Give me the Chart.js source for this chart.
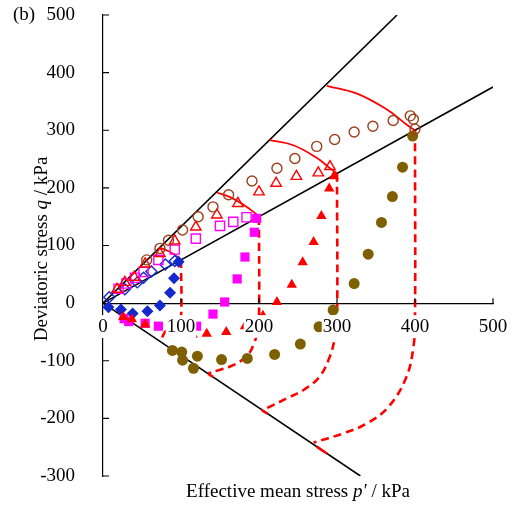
<!DOCTYPE html>
<html><head><meta charset="utf-8">
<style>html,body{margin:0;padding:0;background:#fff;}#wrap{width:514px;height:511px;}</style>
<script src="https://cdn.jsdelivr.net/npm/chart.js@4"></script>
</head><body><div id="wrap"><canvas id="c" width="514" height="511"></canvas></div>
<script>
const xTicks = [0, 100, 200, 300, 400, 500];
const yTicks = [-300, -200, -100, 0, 100, 200, 300, 400, 500];

// measured points [p', q]
const blueFilled = [[7,-7],[23,-11],[38,-18],[57,-14],[73,-4],[86,18],[91,43],[97,72]];
const blueOpen = [[8,10],[28,24],[44,36],[52,44],[62,55],[80,67],[92,73]];
const magentaOpen = [[20,25],[30,34],[41,44],[52,54],[71,75],[92,93],[119,112],[150,134],[167,141],[184,149]];
const magentaFilled = [[27,-27],[33,-32],[54,-35],[71,-40],[120,-40],[141,-19],[156,2],[172,42],[182,80],[194,123],[197,147]];
const redOpen = [[18,24],[28,36],[40,45],[54,68],[73,86],[92,108],[119,132],[146,153],[173,173],[200,193],[222,208],[248,220],[276,226],[291,237]];
const redFilled = [[26,-24],[37,-28],[54,-37],[115,-55],[133,-53],[158,-50],[182,-40],[205,-22],[223,2],[242,32],[256,71],[270,106],[280,151],[290,199],[296,220]];
const brownOpen = [[56,75],[73,95],[84,109],[102,127],[122,150],[141,167],[161,188],[191,212],[223,234],[246,251],[274,272],[297,284],[322,297],[346,307],[372,317],[394,325],[398,319],[400,302]];
const oliveFilled = [[89,-82],[101,-85],[102,-99],[116,-113],[121,-92],[152,-98],[185,-96],[220,-89],[253,-71],[277,-41],[295,-12],[322,34],[340,85],[357,140],[371,185],[384,236],[397,290]];

// straight lines
const lineUpper = [[0,0],[377,500]];
const lineLower = [[0,0],[500,375]];
const lineNeg = [[0,0],[330,-300]];

// solid red arcs
const arc100 = [[73,96],[81,92],[91,85],[97,78],[100,75]];
const arc200 = [[146,192],[163,184],[182,169],[195,156],[200,150]];
const arc300 = [[214,283],[244,274],[273,253],[292,233],[300,225]];
const arc400 = [[287,377],[325,364],[364,336],[389,310],[400,300]];

// dashed red paths
const dash100 = [[100,75],[100,-25],[96,-34],[88,-40],[82,-46],[77,-56],[75,-66]];
const dash200 = [[200,150],[200,-25],[198,-50],[193,-72],[186,-90],[176,-101],[163,-110],[149,-116],[135,-122]];
const dash300 = [[300,225],[300,-35],[297,-62],[291,-92],[278,-127],[259,-149],[236,-165],[212,-181],[203,-186]];
const dash400 = [[400,300],[400,-30],[398,-76],[389,-128],[366,-180],[338,-209],[308,-226],[270,-242]];
const tail200 = [[135,-123],[141,-128]];
const tail300 = [[204,-186],[211,-192]];
const tail400 = [[274,-249],[287,-261]];

const pts = a => a.map(([x, y]) => ({x, y}));
const SERIF = '"Liberation Serif", "Times New Roman", serif';

function markers(data, style, color, filled, r, order) {
  return {data: pts(data), showLine: false, pointStyle: style, pointRadius: r,
    pointBackgroundColor: filled ? color : 'rgba(0,0,0,0)', pointBorderColor: color,
    pointBorderWidth: filled ? 0 : 1.4, order};
}
function path(data, color, width, dash, tension, order) {
  return {data: pts(data), showLine: true, pointRadius: 0, borderColor: color, borderWidth: width,
    borderDash: dash, tension, fill: false, order, borderCapStyle: 'butt'};
}

const datasets = [
  path(lineUpper, '#000', 1.6, [], 0, 20),
  path(lineLower, '#000', 1.6, [], 0, 20),
  path(lineNeg, '#000', 1.6, [], 0, 20),
  path(arc100, '#ff0000', 1.8, [], 0.4, 15),
  path(arc200, '#ff0000', 1.8, [], 0.4, 15),
  path(arc300, '#ff0000', 1.8, [], 0.4, 15),
  path(arc400, '#ff0000', 1.8, [], 0.4, 15),
  path(dash100, '#ff0000', 2.6, [8, 5], 0.4, 15),
  path(dash200, '#ff0000', 2.6, [8, 5], 0.4, 15),
  path(dash300, '#ff0000', 2.6, [8, 5], 0.4, 15),
  path(dash400, '#ff0000', 2.6, [8, 5], 0.4, 15),
  path(tail200, '#ff0000', 2.6, [], 0, 15),
  path(tail300, '#ff0000', 2.6, [], 0, 15),
  path(tail400, '#ff0000', 2.6, [], 0, 15),
  markers(oliveFilled, 'circle', '#7f6000', true, 5.5, 8),
  markers(blueFilled, 'rectRot', '#1428d0', true, 6, 7),
  markers(magentaFilled, 'rect', '#ff00ff', true, 6.5, 6),
  markers(redFilled, 'triangle', '#ff0000', true, 6, 5),
  markers(blueOpen, 'rectRot', '#1428d0', false, 5.5, 4),
  markers(magentaOpen, 'rect', '#ff00ff', false, 6.5, 3),
  markers(redOpen, 'triangle', '#ff0000', false, 6, 2),
  markers(brownOpen, 'circle', '#9c3f1a', false, 5, 1),
];

const decor = {
  id: 'decor',
  afterDraw(chart) {
    const ctx = chart.ctx, xs = chart.scales.x, ys = chart.scales.y;
    const x0 = xs.getPixelForValue(0), y0 = ys.getPixelForValue(0);
    ctx.save();
    ctx.strokeStyle = '#000'; ctx.lineWidth = 1.2;
    ctx.beginPath();
    xTicks.forEach(v => { if (v === 0) return; const px = xs.getPixelForValue(v); ctx.moveTo(px, y0); ctx.lineTo(px, y0 - 5); });
    yTicks.forEach(v => { if (v === 0) return; const py = ys.getPixelForValue(v); ctx.moveTo(x0, py); ctx.lineTo(x0 + 6, py); });
    ctx.stroke();
    ctx.fillStyle = '#000';
    const mixed = (parts, cx, cy, rot, size) => {
      ctx.save(); ctx.translate(cx, cy); if (rot) ctx.rotate(-Math.PI / 2);
      ctx.textBaseline = 'middle'; ctx.textAlign = 'left';
      let total = 0;
      const ws = parts.map(p => { ctx.font = (p[1] ? 'italic ' : '') + size + 'px ' + SERIF; const w = ctx.measureText(p[0]).width; total += w; return w; });
      let x = -total / 2;
      parts.forEach((p, i) => { ctx.font = (p[1] ? 'italic ' : '') + size + 'px ' + SERIF; ctx.fillText(p[0], x, 0); x += ws[i]; });
      ctx.restore();
    };
    mixed([['Effective mean stress ', false], ['p\u2032', true], [' / kPa', false]], 298, 492, false, 19);
    mixed([['Deviatoric stress ', false], ['q', true], [' / kPa', false]], 42, 249, true, 19);
    ctx.font = '19px ' + SERIF; ctx.textBaseline = 'middle'; ctx.textAlign = 'left';
    ctx.fillText('(b)', 13, 15);
    ctx.restore();
  }
};

new Chart(document.getElementById('c'), {
  type: 'scatter',
  data: {datasets},
  plugins: [decor],
  options: {
    responsive: false, animation: false, devicePixelRatio: 1,
    layout: {padding: {left: 0, top: 15, right: 21, bottom: 35}},
    plugins: {legend: {display: false}, tooltip: {enabled: false}, title: {display: false}},
    scales: {
      x: {
        type: 'linear', position: {y: 0}, min: 0, max: 500,
        afterBuildTicks: s => { s.ticks = xTicks.map(v => ({value: v})); },
        afterFit: s => { s.height = 0; s.paddingTop = 0; s.paddingBottom = 0; s.paddingLeft = 0; s.paddingRight = 0; },
        grid: {display: false},
        border: {display: true, color: '#000', width: 1.2},
        ticks: {font: {family: SERIF, size: 19}, color: '#000', padding: 4, z: 1,
          showLabelBackdrop: true, backdropColor: '#fff', backdropPadding: {top: 0, bottom: 0, left: 1, right: 1},
          maxRotation: 0, autoSkip: false}
      },
      y: {
        type: 'linear', min: -300, max: 500,
        afterBuildTicks: s => { s.ticks = yTicks.map(v => ({value: v})); },
        afterFit: s => { s.width = 103; s.paddingTop = 0; s.paddingBottom = 0; s.paddingLeft = 0; s.paddingRight = 0; },
        grid: {display: false},
        border: {display: true, color: '#000', width: 1.2},
        ticks: {font: {family: SERIF, size: 19}, color: '#000', padding: 20, autoSkip: false}
      }
    }
  }
});
</script></body></html>
